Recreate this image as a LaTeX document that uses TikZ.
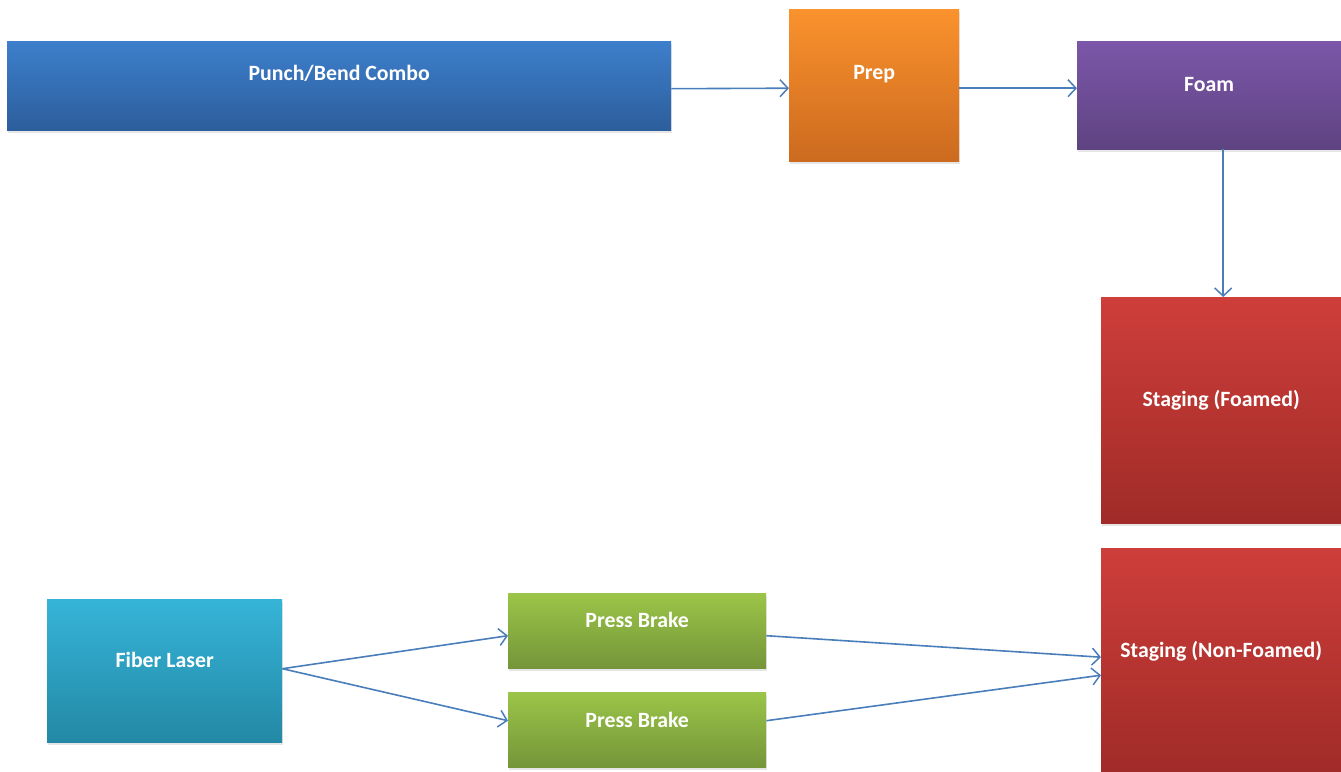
\documentclass[tikz,border=0pt]{standalone}
\usepackage{fontspec}
\setmainfont{Carlito}
\usetikzlibrary{arrows.meta,calc,shadows}
\definecolor{linkblue}{HTML}{4A7EBB}
\tikzset{
  box/.style={rectangle, draw=none, inner sep=0pt, anchor=north west,
    drop shadow={shadow xshift=0.8pt, shadow yshift=-2.5pt, opacity=0.2}},
  lbl/.style={text=white, font=\bfseries\fontsize{21.8}{25}\selectfont, inner sep=0pt},
  flow/.style={draw=linkblue, line width=1.6pt,
    -{Straight Barb[length=8pt, width=17pt, line width=1.5pt]}}
}
\begin{document}
\begin{tikzpicture}[x=1pt, y=-1pt]
  \useasboundingbox (0,0) rectangle (1341,771);

  % process boxes, positioned by their top-left corner
  \node[box, top color={rgb,255:red,61;green,127;blue,204}, bottom color={rgb,255:red,44;green,94;blue,156},
        minimum width=664pt, minimum height=89pt] (punch) at (7,41) {};
  \node[box, top color={rgb,255:red,250;green,146;blue,45}, bottom color={rgb,255:red,204;green,106;blue,31},
        minimum width=170pt, minimum height=152pt] (prep) at (789,9) {};
  \node[box, top color={rgb,255:red,124;green,87;blue,169}, bottom color={rgb,255:red,94;green,67;blue,129},
        minimum width=264pt, minimum height=108pt] (foam) at (1077,41) {};
  \node[box, top color={rgb,255:red,206;green,62;blue,58}, bottom color={rgb,255:red,160;green,43;blue,40},
        minimum width=240pt, minimum height=226pt] (stagef) at (1101,297) {};
  \node[box, top color={rgb,255:red,206;green,62;blue,58}, bottom color={rgb,255:red,160;green,43;blue,40},
        minimum width=240pt, minimum height=226pt] (stagen) at (1101,548) {};
  \node[box, top color={rgb,255:red,54;green,180;blue,216}, bottom color={rgb,255:red,35;green,136;blue,165},
        minimum width=235pt, minimum height=143pt] (laser) at (47,599) {};
  \node[box, top color={rgb,255:red,155;green,197;blue,72}, bottom color={rgb,255:red,117;green,149;blue,57},
        minimum width=258pt, minimum height=75pt] (brakea) at (508,593) {};
  \node[box, top color={rgb,255:red,155;green,197;blue,72}, bottom color={rgb,255:red,117;green,149;blue,57},
        minimum width=258pt, minimum height=75pt] (brakeb) at (508,692) {};

  % labels sit a little above each box's centre
  \node[lbl] (punch-t)  at ($(punch.center)+(0,-12)$)  {Punch/Bend Combo};
  \node[lbl] (prep-t)   at ($(prep.center)+(0,-11)$)   {Prep};
  \node[lbl] (foam-t)   at ($(foam.center)+(0,-11)$)   {Foam};
  \node[lbl] (stagef-t) at ($(stagef.center)+(0,-10)$) {Staging (Foamed)};
  \node[lbl] (stagen-t) at ($(stagen.north)+(0,103)$)  {Staging (Non-Foamed)};
  \node[lbl] (laser-t)  at ($(laser.center)+(0,-11)$)  {Fiber Laser};
  \node[lbl] (brakea-t) at ($(brakea.center)+(0,-11)$) {Press Brake};
  \node[lbl] (brakeb-t) at ($(brakeb.center)+(0,-10)$) {Press Brake};

  % connectors
  \draw[flow] ($(punch.east)+(0,3)$) -- ($(prep.west)+(0,3)$);
  \draw[flow] ($(prep.east)+(0,3)$) -- ($(foam.west)+(0,-7)$);
  \draw[flow] ($(foam.south)+(14,0)$) -- ($(stagef.north)+(2,0)$);
  \draw[flow] ($(laser.east)+(0,-2)$) -- ($(brakea.west)+(0,5)$);
  \draw[flow] ($(laser.east)+(0,-2)$) -- ($(brakeb.west)+(0,-9)$);
  \draw[flow] ($(brakea.east)+(0,5)$) -- ($(stagen.west)+(0,-4)$);
  \draw[flow] ($(brakeb.east)+(0,-9)$) -- ($(stagen.west)+(0,14)$);
\end{tikzpicture}
\end{document}
